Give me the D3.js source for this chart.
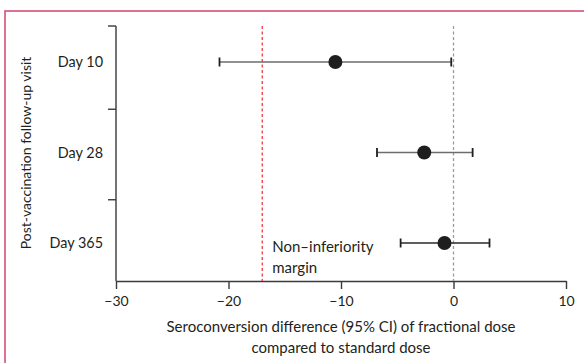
<!DOCTYPE html>
<html>
<head>
<meta charset="utf-8">
<script src="https://cdn.jsdelivr.net/npm/d3@7"></script>
<style>
  body { margin: 0; background: #fff; }
  svg text { font-family: Lato, "Open Sans", sans-serif; fill: #231f20; }
</style>
</head>
<body>
<div id="chart"></div>
<script>
// data
var visits = ['Day 10', 'Day 28', 'Day 365'];
var estimates = [-10.5, -2.6, -0.8];
var ciLow = [-20.8, -6.8, -4.7];
var ciHigh = [-0.2, 1.7, 3.2];
var xTicks = [-30, -20, -10, 0, 10];
var margin = -17; // non-inferiority margin

const width = 584, height = 363;
const svg = d3.select('#chart').append('svg')
	.attr('width', width)
	.attr('height', height);

// panel border (runs off the right/bottom edge)
svg.append('rect')
	.attr('x', 5).attr('y', 11)
	.attr('width', 600).attr('height', 400)
	.attr('fill', 'none')
	.attr('stroke', '#d2466c')
	.attr('stroke-width', 1.5);

const plot = {left: 116, right: 566, top: 26, bottom: 281};

const x = d3.scaleLinear()
	.domain([-30, 10])
	.range([plot.left, plot.right]);

const y = d3.scalePoint()
	.domain(visits)
	.range([62, 243]);

const axisColor = '#3a3a3a';

// x axis
const xAxis = svg.append('g')
	.attr('transform', `translate(0, ${plot.bottom})`)
	.call(d3.axisBottom(x).tickValues(xTicks).tickSize(8).tickSizeOuter(0)
		.tickFormat(d => d < 0 ? '\u2212' + Math.abs(d) : d));
xAxis.select('.domain').attr('stroke', axisColor).attr('stroke-width', 1.4);
xAxis.selectAll('line').attr('stroke', axisColor).attr('stroke-width', 1.4);
xAxis.selectAll('text')
	.attr('font-size', 14)
	.attr('dy', '1.0em')
	.style('font-family', 'Lato, sans-serif')
	.attr('fill', '#231f20');

// y axis (ticks at the category boundaries)
const step = y.step();
const yBounds = [plot.top].concat(visits.slice(0, -1).map(v => y(v) + step / 2 + 2), [plot.bottom]);
svg.append('line')
	.attr('x1', plot.left).attr('x2', plot.left)
	.attr('y1', plot.top).attr('y2', plot.bottom)
	.attr('stroke', axisColor).attr('stroke-width', 1.4);
svg.selectAll('.ytick')
	.data(yBounds.slice(0, -1))
	.enter().append('line')
	.attr('x1', plot.left - 8).attr('x2', plot.left)
	.attr('y1', d => d).attr('y2', d => d)
	.attr('stroke', axisColor).attr('stroke-width', 1.4);

svg.selectAll('.ylabel')
	.data(visits)
	.enter().append('text')
	.attr('x', plot.left - 13)
	.attr('y', d => y(d))
	.attr('dy', '0.35em')
	.attr('text-anchor', 'end')
	.attr('font-size', 14.4)
	.text(d => d);

// reference lines
svg.append('line')
	.attr('x1', x(margin)).attr('x2', x(margin))
	.attr('y1', plot.top).attr('y2', plot.bottom)
	.attr('stroke', '#ee3b45').attr('stroke-width', 1.3)
	.attr('stroke-dasharray', '3,2.5');
svg.append('line')
	.attr('x1', x(0)).attr('x2', x(0))
	.attr('y1', plot.top).attr('y2', plot.bottom)
	.attr('stroke', '#8e9ea8').attr('stroke-width', 1.3)
	.attr('stroke-dasharray', '3,2.5');

// error bars and points
const rows = visits.map((v, i) => ({visit: v, est: estimates[i], lo: ciLow[i], hi: ciHigh[i]}));
const lineColors = ['#6d6d6d', '#6d6d6d', '#2a2a2a'];
const g = svg.append('g');
rows.forEach((r, i) => {
	const cy = y(r.visit);
	g.append('line')
		.attr('x1', x(r.lo)).attr('x2', x(r.hi))
		.attr('y1', cy).attr('y2', cy)
		.attr('stroke', lineColors[i]).attr('stroke-width', 1.5);
	[r.lo, r.hi].forEach(v => {
		g.append('line')
			.attr('x1', x(v)).attr('x2', x(v))
			.attr('y1', cy - 4.5).attr('y2', cy + 4.5)
			.attr('stroke', '#231f20').attr('stroke-width', 1.8);
	});
	g.append('circle')
		.attr('cx', x(r.est)).attr('cy', cy)
		.attr('r', 7)
		.attr('fill', '#1e1e1e');
});

// margin label
const note = svg.append('text')
	.attr('x', x(margin) + 10)
	.attr('y', 252)
	.attr('font-size', 15);
note.append('tspan').attr('x', x(margin) + 10).text('Non\u2013inferiority');
note.append('tspan').attr('x', x(margin) + 10).attr('dy', 21).text('margin');

// axis titles
const xt = svg.append('text')
	.attr('text-anchor', 'middle')
	.attr('font-size', 15);
xt.append('tspan').attr('x', 341).attr('y', 332).text('Seroconversion difference (95% CI) of fractional dose');
xt.append('tspan').attr('x', 341).attr('y', 353).text('compared to standard dose');

svg.append('text')
	.attr('transform', 'translate(31, 153) rotate(-90)')
	.attr('text-anchor', 'middle')
	.attr('font-size', 14)
	.text('Post-vaccination follow-up visit');
</script>
</body>
</html>
